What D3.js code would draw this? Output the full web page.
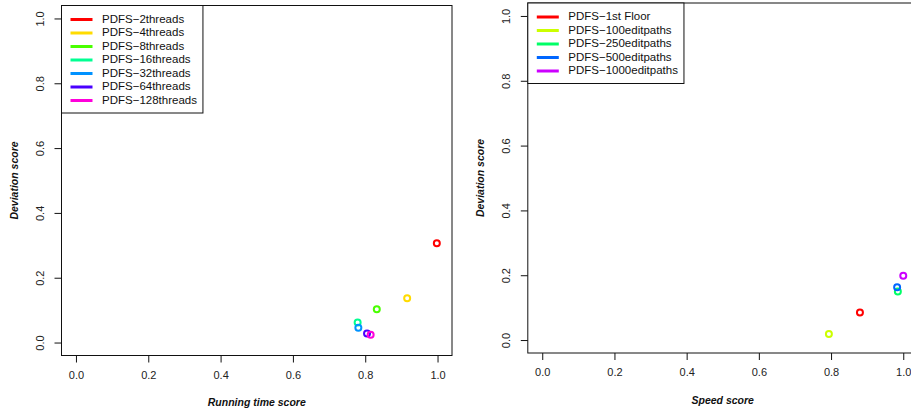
<!DOCTYPE html>
<html>
<head>
<meta charset="utf-8">
<script src="https://cdn.jsdelivr.net/npm/d3@7"></script>
<style>
    body { margin: 0; background: #fff; }
    svg { display: block; font-family: "Liberation Sans", Arial, sans-serif; }
    .tick-label { font-size: 11px; fill: #222; }
    .axis-title { font-size: 10.5px; font-weight: bold; font-style: italic; fill: #111; }
    .legend-text { font-size: 11.5px; fill: #111; }
</style>
</head>
<body>
<svg id="chart" width="911" height="415"></svg>
<script>
// Left panel: threads
const threadLabels = ['PDFS−2threads', 'PDFS−4threads', 'PDFS−8threads', 'PDFS−16threads',
    'PDFS−32threads', 'PDFS−64threads', 'PDFS−128threads'];
const threadColors = ['#FF0000', '#FFDB00', '#49FF00', '#00FF92', '#0092FF', '#4900FF', '#FF00DB'];
const threadTime = [0.998, 0.916, 0.832, 0.779, 0.781, 0.805, 0.815];
const threadDev = [0.306, 0.137, 0.103, 0.062, 0.046, 0.028, 0.024];

// Right panel: edit paths
const pathLabels = ['PDFS−1st Floor', 'PDFS−100editpaths', 'PDFS−250editpaths',
    'PDFS−500editpaths', 'PDFS−1000editpaths'];
const pathColors = ['#FF0000', '#CCFF00', '#00FF66', '#0066FF', '#CC00FF'];
const pathSpeed = [0.880, 0.794, 0.985, 0.983, 1.0];
const pathDev = [0.085, 0.019, 0.150, 0.163, 0.198];

const tickValues = [0, 0.2, 0.4, 0.6, 0.8, 1.0];

class ScatterPanel {
    constructor(_config) {
        this.config = _config;
        this.initVis();
    }

    initVis() {
        let vis = this;
        const c = vis.config;

        // R style: 4% padding around [0,1]
        vis.xScale = d3.scaleLinear().domain([-0.04, 1.04]).range([c.left, c.right]);
        vis.yScale = d3.scaleLinear().domain([-0.04, 1.04]).range([c.bottom, c.top]);

        vis.g = d3.select('#chart').append('g');

        // plot box
        vis.g.append('rect')
            .attr('x', c.left).attr('y', c.top)
            .attr('width', c.right - c.left).attr('height', c.bottom - c.top)
            .attr('fill', 'none').attr('stroke', '#111').attr('stroke-width', 1);

        vis.xAxis = d3.axisBottom(vis.xScale)
            .tickValues(tickValues).tickSize(7).tickPadding(8)
            .tickFormat(d3.format('.1f'));
        vis.yAxis = d3.axisLeft(vis.yScale)
            .tickValues(tickValues).tickSize(7).tickPadding(8)
            .tickFormat(d3.format('.1f'));

        vis.xAxisG = vis.g.append('g').attr('transform', `translate(0,${c.bottom})`).call(vis.xAxis);
        vis.yAxisG = vis.g.append('g').attr('transform', `translate(${c.left},0)`).call(vis.yAxis);

        [vis.xAxisG, vis.yAxisG].forEach(a => {
            a.select('.domain').remove();
            a.attr('font-family', null).attr('font-size', null);
            a.selectAll('line').attr('stroke', '#111');
            a.selectAll('text').attr('class', 'tick-label').attr('fill', null);
        });
        vis.xAxisG.selectAll('text').attr('dy', null).attr('y', c.xLabelY - c.bottom)
            .attr('dominant-baseline', 'middle');
        vis.yAxisG.selectAll('text')
            .attr('x', null).attr('dy', null)
            .attr('text-anchor', 'middle')
            .attr('dominant-baseline', 'middle')
            .attr('transform', `translate(${c.yLabelX - c.left},0) rotate(-90)`);

        // axis titles
        vis.g.append('text').attr('class', 'axis-title')
            .attr('x', (c.left + c.right) / 2).attr('y', c.xTitleY)
            .attr('text-anchor', 'middle').attr('dominant-baseline', 'middle')
            .text(c.xTitle);
        vis.g.append('text').attr('class', 'axis-title')
            .attr('transform', `translate(${c.yTitleX},${(c.top + c.bottom) / 2}) rotate(-90)`)
            .attr('text-anchor', 'middle').attr('dominant-baseline', 'middle')
            .text('Deviation score');
    }

    renderVis() {
        let vis = this;
        const c = vis.config;
        const pts = c.xs.map((x, i) => ({x: x, y: c.ys[i], color: c.colors[i]}));

        vis.g.selectAll('.pt')
            .data(pts)
            .join('circle')
            .attr('class', 'pt')
            .attr('cx', d => vis.xScale(d.x))
            .attr('cy', d => vis.yScale(d.y))
            .attr('r', 3)
            .attr('fill', 'none')
            .attr('stroke', d => d.color)
            .attr('stroke-width', 2);

        // legend in top-left corner
        const lg = vis.g.append('g');
        const lx = c.left, ly = c.top;
        const rowY = i => ly + 14 + i * 13.5;

        const texts = lg.selectAll('.legend-text')
            .data(c.labels)
            .join('text')
            .attr('class', 'legend-text')
            .attr('x', lx + 40.5)
            .attr('y', (d, i) => rowY(i))
            .attr('dominant-baseline', 'middle')
            .text(d => d);

        lg.selectAll('.legend-line')
            .data(c.colors)
            .join('line')
            .attr('class', 'legend-line')
            .attr('x1', lx + 9).attr('x2', lx + 31)
            .attr('y1', (d, i) => rowY(i)).attr('y2', (d, i) => rowY(i))
            .attr('stroke', d => d)
            .attr('stroke-width', 3);

        let maxW = 0;
        texts.each(function() { maxW = Math.max(maxW, this.getComputedTextLength()); });

        lg.insert('rect', ':first-child')
            .attr('x', lx).attr('y', ly)
            .attr('width', 40.5 + maxW + 6)
            .attr('height', 14 + (c.labels.length - 1) * 13.5 + 12.5)
            .attr('fill', '#fff').attr('stroke', '#111').attr('stroke-width', 1);
    }
}

const leftPanel = new ScatterPanel({
    left: 61.5, right: 452, top: 5.5, bottom: 355.5,
    xLabelY: 376, xTitleY: 403, yLabelX: 41.5, yTitleX: 15,
    xTitle: 'Running time score',
    xs: threadTime, ys: threadDev, colors: threadColors, labels: threadLabels
});
leftPanel.renderVis();

const rightPanel = new ScatterPanel({
    left: 527.8, right: 917.7, top: 3, bottom: 353,
    xLabelY: 373, xTitleY: 401, yLabelX: 507, yTitleX: 481,
    xTitle: 'Speed score',
    xs: pathSpeed, ys: pathDev, colors: pathColors, labels: pathLabels
});
rightPanel.renderVis();
</script>
</body>
</html>
